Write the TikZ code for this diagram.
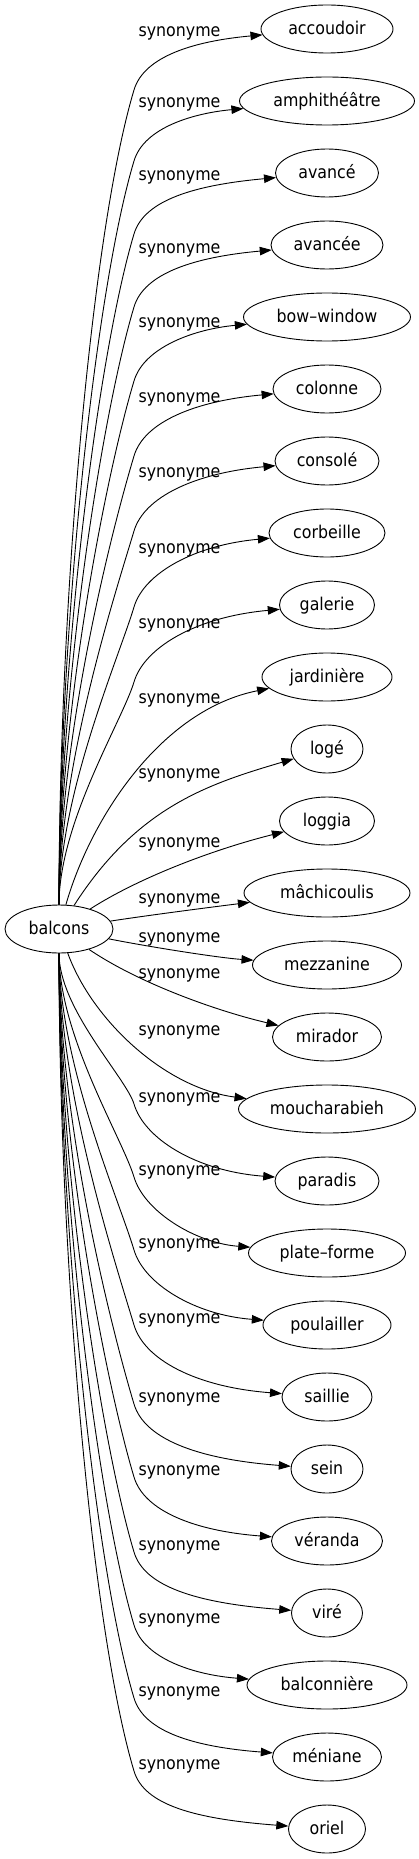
\documentclass[tikz,border=0pt]{standalone}
\usepackage{fontspec}
\setmainfont{DejaVu Sans Condensed}
\usetikzlibrary{shapes.geometric,arrows.meta}
\tikzset{
  ent/.style={ellipse, draw, line width=0.9pt, minimum height=48pt, inner xsep=0pt, inner ysep=2pt,
    text height=13.5pt, text depth=3pt, font=\fontsize{17.6}{20}\selectfont},
  lbl/.style={inner sep=0pt, text height=13.5pt, text depth=3pt, font=\fontsize{17.6}{20}\selectfont},
  edge/.style={line width=0.9pt, -{Triangle[length=12pt,width=8.5pt]}}
}
\begin{document}
\begin{tikzpicture}[x=1pt,y=-1pt]
\useasboundingbox (0,0) rectangle (419,1859);
\node[ent, minimum width=108pt] (balcons) at (59,929) {balcons};
% targets
\node[ent, minimum width=132pt] (acc) at (327,29) {accoudoir};
\node[ent, minimum width=175pt] (amph) at (327,101) {amphithéâtre};
\node[ent, minimum width=103pt] (avance) at (327,173) {avancé};
\node[ent, minimum width=112pt] (avancee) at (327,245) {avancée};
\node[ent, minimum width=167pt] (bow) at (327,317) {bow–window};
\node[ent, minimum width=108pt] (colonne) at (327,389) {colonne};
\node[ent, minimum width=104pt] (console) at (327,461) {consolé};
\node[ent, minimum width=116pt] (corbeille) at (327,533) {corbeille};
\node[ent, minimum width=95pt] (galerie) at (327,605) {galerie};
\node[ent, minimum width=130pt] (jard) at (327,677) {jardinière};
\node[ent, minimum width=72pt] (loge) at (327,749) {logé};
\node[ent, minimum width=95pt] (loggia) at (327,821) {loggia};
\node[ent, minimum width=166pt] (mach) at (327,893) {mâchicoulis};
\node[ent, minimum width=149pt] (mezz) at (327,965) {mezzanine};
\node[ent, minimum width=109pt] (mirador) at (327,1037) {mirador};
\node[ent, minimum width=177pt] (mouch) at (327,1109) {moucharabieh};
\node[ent, minimum width=104pt] (paradis) at (327,1181) {paradis};
\node[ent, minimum width=157pt] (plateforme) at (327,1253) {plate–forme};
\node[ent, minimum width=128pt] (poulailler) at (327,1325) {poulailler};
\node[ent, minimum width=90pt] (saillie) at (327,1397) {saillie};
\node[ent, minimum width=72pt] (sein) at (327,1469) {sein};
\node[ent, minimum width=111pt] (veranda) at (327,1541) {véranda};
\node[ent, minimum width=71pt] (vire) at (327,1613) {viré};
\node[ent, minimum width=160pt] (balconniere) at (327,1685) {balconnière};
\node[ent, minimum width=109pt] (meniane) at (327,1757) {méniane};
\node[ent, minimum width=77pt] (oriel) at (327,1829) {oriel};
% labels
\foreach \n/\ly in {acc/31,amph/102,avance/175,avancee/248,bow/322,colonne/397,console/472,corbeille/548,galerie/623,jard/698,loge/773,loggia/842,mach/898,mezz/937,mirador/973,mouch/1030,paradis/1097,plateforme/1170,poulailler/1243,saillie/1318,sein/1397,veranda/1470,vire/1545,balconniere/1618,meniane/1691,oriel/1764}
  \node[lbl] (l\n) at (179.5,\ly) {synonyme};
% upper edges
\foreach \n/\ly/\ny in {acc/31/29,amph/102/101,avance/175/173,avancee/248/245,bow/322/317,colonne/397/389,console/472/461,corbeille/548/533,galerie/623/605}{
  \pgfmathsetmacro\ky{\ly+59}
  \pgfmathsetmacro\L{905-\ky}
  \pgfmathsetmacro\ay{905-0.37*\L}
  \pgfmathsetmacro\bx{134-0.052*\L}
  \pgfmathsetmacro\by{\ky+0.173*\L}
  \pgfmathsetmacro\cy{\ky-34}
  \pgfmathsetmacro\dy{\ny+12}
  \draw[edge] (balcons) .. controls (59,\ay) and (\bx,\by) .. (134,\ky) .. controls (144,\cy) and (195,\dy) .. (\n);
}
% lower edges
\foreach \n/\ly/\ny in {paradis/1097/1181,plateforme/1170/1253,poulailler/1243/1325,saillie/1318/1397,sein/1397/1469,veranda/1470/1541,vire/1545/1613,balconniere/1618/1685,meniane/1691/1757,oriel/1764/1829}{
  \pgfmathsetmacro\ky{\ly+7}
  \pgfmathsetmacro\L{\ky-953}
  \pgfmathsetmacro\ay{953+0.37*\L}
  \pgfmathsetmacro\bx{134-0.052*\L}
  \pgfmathsetmacro\by{\ky-0.173*\L}
  \pgfmathsetmacro\cy{\ky+34}
  \pgfmathsetmacro\dy{\ny-10}
  \draw[edge] (balcons) .. controls (59,\ay) and (\bx,\by) .. (134,\ky) .. controls (144,\cy) and (195,\dy) .. (\n);
}
% middle edges
\draw[edge] (balcons) .. controls (90,820) and (160,710) .. (jard);
\draw[edge] (balcons) .. controls (137,807) and (208,784) .. (loge);
\draw[edge] (balcons) .. controls (140,877) and (215,849) .. (loggia);
\draw[edge] (balcons) .. controls (150,915) and (220,906) .. (mach);
\draw[edge] (balcons) .. controls (150,947) and (220,958) .. (mezz);
\draw[edge] (balcons) .. controls (137,982) and (213,1010) .. (mirador);
\draw[edge] (balcons) .. controls (92,1020) and (165,1088) .. (mouch);
\end{tikzpicture}
\end{document}
